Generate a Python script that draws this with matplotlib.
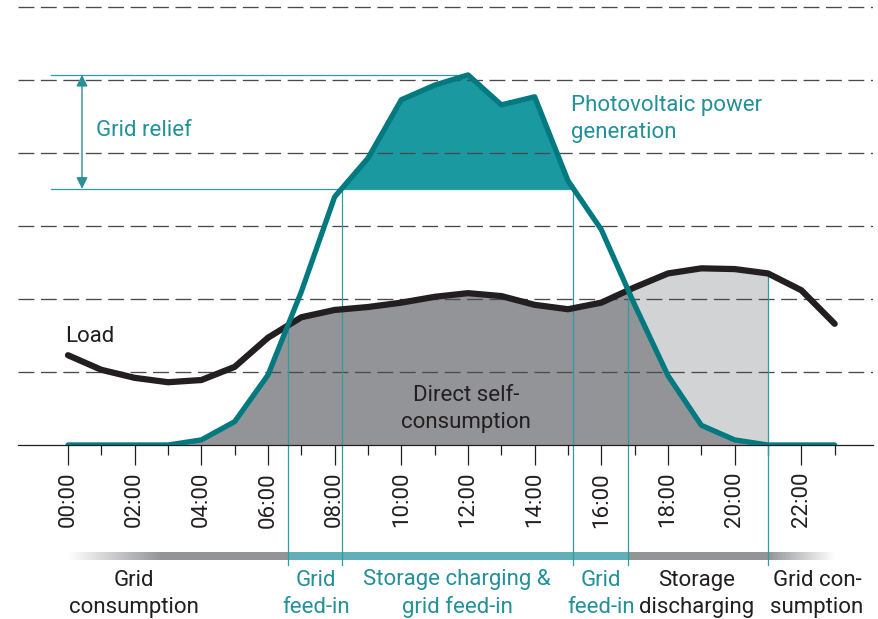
import numpy as np
import matplotlib
matplotlib.use('Agg')
import matplotlib.pyplot as plt

plt.rcParams['font.family'] = ['Roboto', 'DejaVu Sans']

# hourly profile (arbitrary power units, one grid step = 1)
hours = np.arange(24)
pv = np.array([0, 0, 0, 0, 0.07, 0.32, 0.96, 2.10, 3.40, 3.93, 4.73, 4.93,
               5.07, 4.66, 4.77, 3.62, 2.95, 1.92, 0.95, 0.27, 0.07, 0, 0, 0])
load = np.array([1.23, 1.03, 0.92, 0.86, 0.89, 1.07, 1.47, 1.75, 1.85, 1.89, 1.95, 2.03,
                 2.08, 2.04, 1.92, 1.86, 1.95, 2.16, 2.35, 2.42, 2.41, 2.35, 2.12, 1.66])
relief_level = 3.51
discharge_end = 21
tick_hours = list(range(0, 24, 2))
tick_labels = [f'{h:02d}:00' for h in tick_hours]

phase_labels = ['Grid\nconsumption', 'Grid\nfeed-in', 'Storage charging &\ngrid feed-in',
                'Grid\nfeed-in', 'Storage\ndischarging', 'Grid con-\nsumption']
phase_pos = [1.98, 7.45, 11.67, 16.0, 18.85, 22.47]
phase_teal = [False, True, True, True, False, False]

TEAL = '#00797f'
TEAL_FILL = '#1b99a1'
TEAL_THIN = '#2f9ba2'
TEAL_TEXT = '#23909a'
DARK = '#231f20'
GREY_DARK = '#939497'
GREY_LIGHT = '#d2d3d5'
BAND_TEAL = '#62b0b8'
FS = 16
LS = 1.35


def crossing(x, y, lo, hi):
    # first sign change of y inside [lo, hi], linear between hourly points
    for i in range(len(x) - 1):
        if x[i] >= lo and x[i + 1] <= hi and y[i] * y[i + 1] < 0:
            return x[i] + y[i] / (y[i] - y[i + 1])
    return None


t_morning = crossing(hours, pv - load, 4, 12)
t_evening = crossing(hours, pv - load, 12, 22)
t_relief_on = crossing(hours, pv - relief_level, 4, 12)
t_relief_off = crossing(hours, pv - relief_level, 12, 22)

xf = np.linspace(0, 23, 2301)
pvf = np.interp(xf, hours, pv)
loadf = np.interp(xf, hours, load)

fig = plt.figure(figsize=(8.79, 6.19), dpi=100)
ax = fig.add_axes([18 / 879, 174 / 619, 855 / 879, 445 / 619])

# fills
ax.fill_between(xf, 0, np.minimum(pvf, loadf), color=GREY_DARK, lw=0, zorder=1)
ax.fill_between(xf, pvf, loadf, where=(xf >= t_evening) & (xf <= discharge_end) & (loadf > pvf),
                color=GREY_LIGHT, lw=0, zorder=1)
ax.fill_between(xf, relief_level, pvf, where=pvf > relief_level, color=TEAL_FILL, lw=0, zorder=1)

# phase separators
v_bottom = -1.64
for t, top in [(t_morning, np.interp(t_morning, hours, load)),
               (t_relief_on, relief_level),
               (t_relief_off, relief_level),
               (t_evening, np.interp(t_evening, hours, load)),
               (discharge_end, np.interp(discharge_end, hours, load))]:
    ax.plot([t, t], [v_bottom, top], color=TEAL_THIN, lw=0.9, zorder=2.2, clip_on=False)

# grid relief markers
ax.plot([-0.51, 12], [pv.max(), pv.max()], color=TEAL_THIN, lw=0.9, zorder=2.2)
ax.plot([-0.51, t_relief_off], [relief_level, relief_level], color=TEAL_THIN, lw=0.9, zorder=2.2)
ax.annotate('', xy=(0.42, pv.max()), xytext=(0.42, relief_level),
            arrowprops=dict(arrowstyle='<|-|>', color='#2a8f97', lw=1.0,
                            mutation_scale=17, shrinkA=0, shrinkB=0), zorder=2.3)

# curves
ax.plot(hours, load, color=DARK, lw=4.5, solid_capstyle='round', solid_joinstyle='round', zorder=3)
ax.plot(hours, pv, color=TEAL, lw=3.8, solid_capstyle='round', solid_joinstyle='round', zorder=4)

# texts in the plot (multi-line 'baseline' = last line's baseline)
ax.text(0.84, 4.23, 'Grid relief', color=TEAL_TEXT, fontsize=FS, va='baseline')
ax.text(15.09, 4.205, 'Photovoltaic power\ngeneration', color=TEAL_TEXT, fontsize=FS,
        va='baseline', linespacing=LS)
ax.text(-0.09, 1.41, 'Load', color=DARK, fontsize=FS, va='baseline')
ax.text(11.94, 0.233, 'Direct self-\nconsumption', color=DARK, fontsize=FS, va='baseline',
        ha='center', multialignment='center', linespacing=LS)

# bottom band
band = np.ones((1, 2301, 4))
teal_rgb = matplotlib.colors.to_rgb(BAND_TEAL)
grey_rgb = matplotlib.colors.to_rgb(GREY_DARK)
for j, x in enumerate(xf):
    if t_morning <= x <= t_evening:
        band[0, j, :3] = teal_rgb
        band[0, j, 3] = 1
    else:
        band[0, j, :3] = grey_rgb
        if x < t_morning:
            band[0, j, 3] = min(1, x / 2.8)
        else:
            band[0, j, 3] = 1 if x <= discharge_end else max(0, 1 - (x - discharge_end) / 2.0)
ax.imshow(band, extent=[0, 23, -1.58, -1.48], aspect='auto', zorder=2, clip_on=False,
          interpolation='bilinear')

for lab, pos, teal in zip(phase_labels, phase_pos, phase_teal):
    ax.text(pos, -2.30, lab, color=TEAL_TEXT if teal else DARK, fontsize=FS, va='baseline',
            ha='center', multialignment='center', linespacing=LS)

# axes styling
ax.set_xlim(-1.5, 24.15)
ax.set_ylim(0, 445 / 73)
ax.set_xticks(tick_hours)
ax.set_xticklabels(tick_labels, rotation=90, fontsize=FS, color=DARK)
ax.set_xticks(range(1, 24, 2), minor=True)
ax.tick_params(axis='x', which='major', length=14.4, width=0.9, color=DARK, pad=5)
ax.tick_params(axis='x', which='minor', length=7.2, width=0.9, color=DARK)
ax.set_yticks(range(1, 7))
ax.tick_params(axis='y', length=0, labelleft=False)
ax.yaxis.grid(True, linestyle=(0, (12, 5)), color='#4a4a4a', lw=0.95)
ax.set_axisbelow('line')
for side in ['left', 'top', 'right']:
    ax.spines[side].set_visible(False)
ax.spines['bottom'].set_color(DARK)
ax.spines['bottom'].set_linewidth(0.9)

fig.savefig('out.png', dpi=100)
